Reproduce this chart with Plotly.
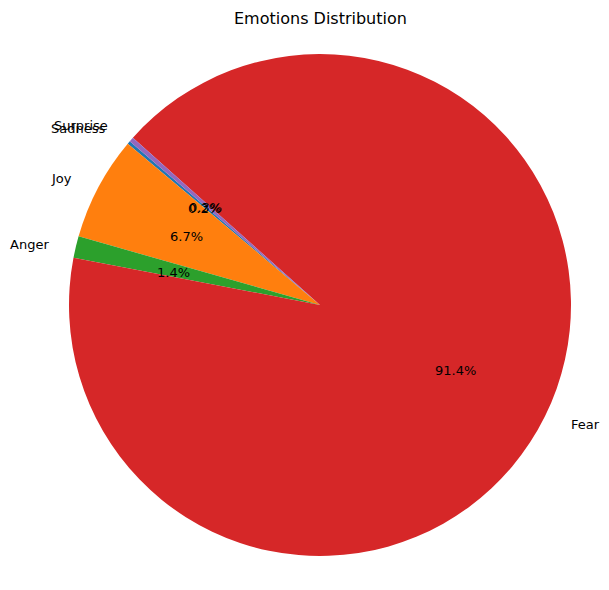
import math
import plotly.graph_objects as go

labels = ["Sadness", "Joy", "Anger", "Fear", "Surprise"]
values = [0.2, 6.7, 1.4, 91.4, 0.3]
colors = ["#1f77b4", "#ff7f0e", "#2ca02c", "#d62728", "#9467bd"]
start_angle = 140  # matplotlib-style, degrees counterclockwise from 3 o'clock

W, H = 609, 590
OFF = 8  # page body margin offset
cx, cy, R = 320 - OFF, 305 - OFF, 251

fig = go.Figure(go.Pie(
    labels=labels, values=values, sort=False, direction="counterclockwise",
    rotation=-(start_angle - 90), marker=dict(colors=colors, line=dict(width=0)),
    textinfo="none", hoverinfo="label+percent", showlegend=False,
))

total = sum(values)
annotations = []
acc = start_angle
font = dict(family="DejaVu Sans", size=13, color="black")
for lab, v in zip(labels, values):
    span = 360 * v / total
    mid = math.radians(acc + span / 2)
    acc += span
    lx = 0.5 + 0.55 * math.cos(mid)
    ly = 0.5 + 0.55 * math.sin(mid)
    annotations.append(dict(x=lx, y=ly, xref="paper", yref="paper", text=lab,
                            showarrow=False, font=font,
                            xanchor="left" if math.cos(mid) > 0 else "right",
                            yanchor="middle"))
    px = 0.5 + 0.3 * math.cos(mid)
    py = 0.5 + 0.3 * math.sin(mid)
    annotations.append(dict(x=px, y=py, xref="paper", yref="paper",
                            text=f"{100 * v / total:.1f}%", showarrow=False,
                            font=font, xanchor="center", yanchor="middle"))

title_px = 18 - OFF
annotations.append(dict(x=0.5, y=(cy + R - title_px) / (2 * R) + 0.0, xref="paper", yref="paper",
                        text="Emotions Distribution", showarrow=False,
                        font=dict(family="DejaVu Sans", size=16, color="black"),
                        xanchor="center", yanchor="middle"))

fig.update_layout(
    width=W, height=H,
    margin=dict(l=cx - R, r=W - cx - R, t=cy - R, b=H - cy - R, pad=0),
    paper_bgcolor="white", plot_bgcolor="white",
    annotations=annotations,
)
fig.write_html("out.html")
